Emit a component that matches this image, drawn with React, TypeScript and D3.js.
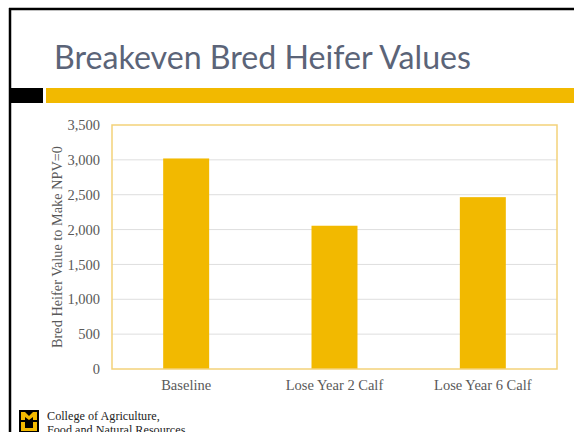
import * as d3 from 'd3';
import React, { useEffect, useRef } from 'react';

const categories = ['Baseline', 'Lose Year 2 Calf', 'Lose Year 6 Calf'];
const values = [3020, 2055, 2465];
const yTicks = [0, 500, 1000, 1500, 2000, 2500, 3000, 3500];

const gold = '#f2b900';

const App = () => {
  const svgRef = useRef(null);

  useEffect(() => {
    const svg = d3.select(svgRef.current);
    svg.selectAll('*').remove();

    // slide frame
    svg.append('rect').attr('width', 574).attr('height', 432).attr('fill', '#fff');
    svg.append('line').attr('x1', 9).attr('x2', 574).attr('y1', 9).attr('y2', 9)
      .attr('stroke', '#000').attr('stroke-width', 2.5);
    svg.append('line').attr('x1', 10).attr('x2', 10).attr('y1', 8).attr('y2', 432)
      .attr('stroke', '#000').attr('stroke-width', 2.5);
    svg.append('rect').attr('x', 9).attr('y', 88).attr('width', 34).attr('height', 15).attr('fill', '#000');
    svg.append('rect').attr('x', 46).attr('y', 88).attr('width', 528).attr('height', 15).attr('fill', gold);

    svg.append('text')
      .attr('x', 54).attr('y', 69)
      .attr('font-family', 'Lato, "Noto Sans", sans-serif')
      .attr('font-size', 32)
      .attr('fill', '#5b6478')
      .attr('textLength', 417)
      .attr('lengthAdjust', 'spacingAndGlyphs')
      .text('Breakeven Bred Heifer Values');

    // chart
    const left = 112, right = 557, top = 125, bottom = 369;
    const x = d3.scaleBand().domain(categories).range([left, right]).paddingInner(0.69).paddingOuter(0.345);
    const y = d3.scaleLinear().domain([0, 3500]).range([bottom, top]);

    const g = svg.append('g');

    g.selectAll('.grid').data(yTicks.slice(1, -1)).enter().append('line')
      .attr('x1', left).attr('x2', right)
      .attr('y1', (d) => y(d)).attr('y2', (d) => y(d))
      .attr('stroke', '#dedede').attr('stroke-width', 1);

    g.selectAll('.bar').data(values).enter().append('rect')
      .attr('x', (d, i) => x(categories[i]) as number)
      .attr('width', x.bandwidth())
      .attr('y', (d) => y(d))
      .attr('height', (d) => bottom - y(d))
      .attr('fill', gold);

    g.append('rect')
      .attr('x', left).attr('y', top).attr('width', right - left).attr('height', bottom - top)
      .attr('fill', 'none').attr('stroke', '#f3d27a').attr('stroke-width', 1.5);

    const yAxis = g.append('g')
      .attr('transform', 'translate(' + left + ',0)')
      .call(d3.axisLeft(y).tickValues(yTicks).tickFormat(d3.format(',')).tickSize(0).tickPadding(12));
    yAxis.select('.domain').remove();
    yAxis.selectAll('text')
      .attr('font-family', '"Liberation Serif", serif').attr('font-size', 14.5).attr('fill', '#595959');

    const xAxis = g.append('g')
      .attr('transform', 'translate(0,' + bottom + ')')
      .call(d3.axisBottom(x).tickSize(0).tickPadding(11));
    xAxis.select('.domain').remove();
    xAxis.selectAll('text')
      .attr('font-family', '"Liberation Serif", serif').attr('font-size', 14.5).attr('fill', '#595959');

    g.append('text')
      .attr('transform', 'translate(62,' + (top + bottom) / 2 + ') rotate(-90)')
      .attr('text-anchor', 'middle')
      .attr('font-family', '"Liberation Serif", serif').attr('font-size', 14.3).attr('fill', '#595959')
      .text('Bred Heifer Value to Make NPV=0');

    // footer logo
    const logo = svg.append('g').attr('transform', 'translate(19,410)');
    logo.append('rect').attr('width', 20).attr('height', 22).attr('fill', '#000');
    logo.append('path').attr('d', 'M2,2 L6,2 L10,6 L14,2 L18,2 L18,10 L14,10 L14,7 L10,10 L6,7 L6,10 L2,10 Z').attr('fill', gold);
    logo.append('path').attr('d', 'M2,12 L6,12 L6,18 L14,18 L14,12 L18,12 L18,21 L2,21 Z').attr('fill', gold);

    svg.append('text').attr('x', 47).attr('y', 420)
      .attr('font-family', '"Liberation Serif", serif').attr('font-size', 12.2).attr('fill', '#222')
      .text('College of Agriculture,');
    svg.append('text').attr('x', 47).attr('y', 434)
      .attr('font-family', '"Liberation Serif", serif').attr('font-size', 12.2).attr('fill', '#222')
      .text('Food and Natural Resources');
  }, []);

  return <svg ref={svgRef} width={574} height={432} style={{ position: 'absolute', left: 0, top: 0 }} />;
};

export default App;
